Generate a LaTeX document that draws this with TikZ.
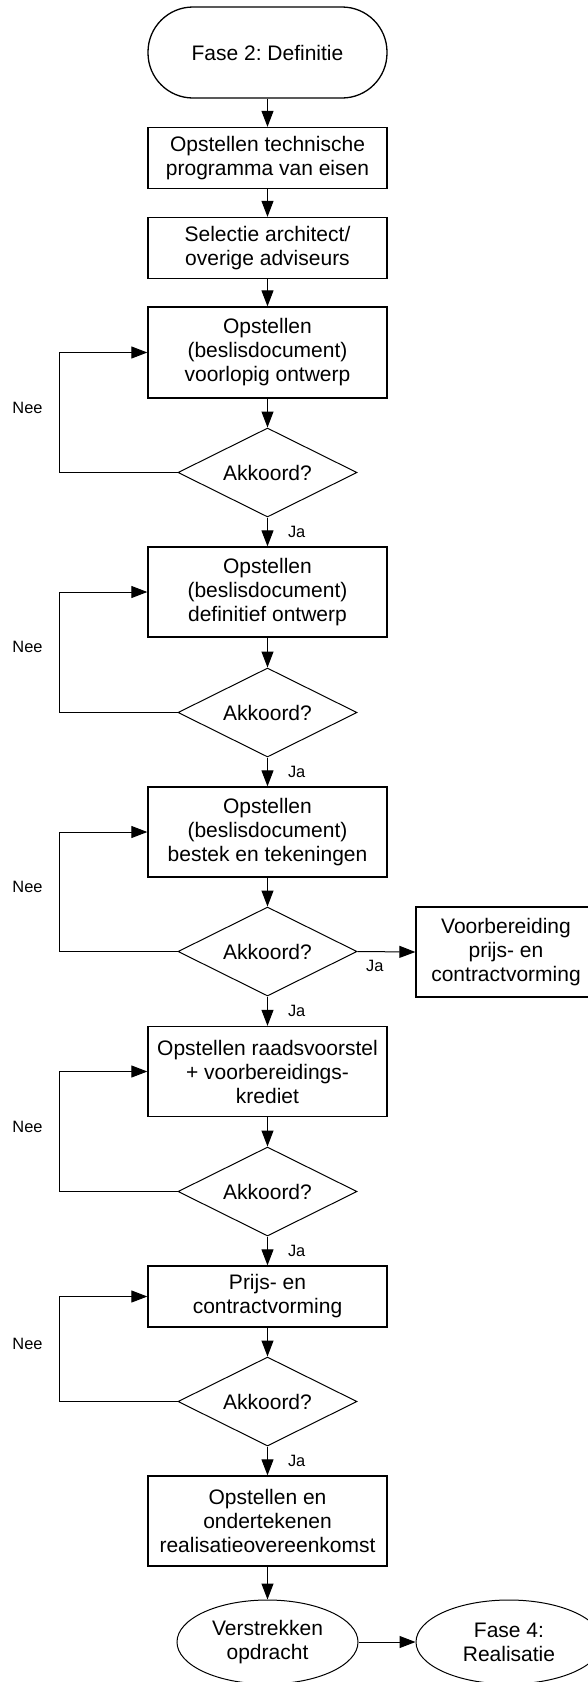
\documentclass[tikz,border=0pt]{standalone}
\usepackage{fontspec}
\setmainfont{Liberation Sans}
\usetikzlibrary{shapes.geometric, arrows.meta, calc}
\frenchspacing

\begin{document}
\begin{tikzpicture}[x=1pt, y=-1pt,
  base/.style={draw=black, align=center, font=\fontsize{21}{24}\selectfont, inner sep=0pt},
  stepbox/.style={base, rectangle, line width=1.3pt, minimum width=239pt, minimum height=#1},
  stepbox/.default=61pt,
  terminal/.style={base, rectangle, line width=1.3pt, rounded corners=45pt, minimum width=239pt, minimum height=91pt},
  decision/.style={base, diamond, line width=1pt, aspect=2, minimum width=179pt, minimum height=89pt},
  endpoint/.style={base, ellipse, line width=1pt, minimum height=84pt},
  conn/.style={draw=black, line width=1pt, -{Triangle[length=16pt, width=12pt]}},
  lbl/.style={font=\fontsize{16.4}{19}\selectfont, inner sep=0pt}
]
\useasboundingbox (0,0) rectangle (587,1682);

% main column
\node[terminal] (t0) at (267.5,52.5) {Fase 2: Definitie};
\node[stepbox] (b1) at (267.5,158) {Opstellen technische\\programma van eisen};
\node[stepbox] (b2) at (267.5,248) {Selectie architect/\\overige adviseurs};
\node[stepbox=91pt] (b3) at (267.5,352.5) {Opstellen\\(beslisdocument)\\voorlopig ontwerp};
\node[decision] (d1) at (267.5,472.5) {Akkoord?};
\node[stepbox=90pt] (b4) at (267.5,592) {Opstellen\\(beslisdocument)\\definitief ontwerp};
\node[decision] (d2) at (267.5,712.5) {Akkoord?};
\node[stepbox=90pt] (b5) at (267.5,832) {Opstellen\\(beslisdocument)\\bestek en tekeningen};
\node[decision] (d3) at (267.5,951.5) {Akkoord?};
\node[stepbox=90pt, minimum width=180pt] (vb) at (506,952) {Voorbereiding\\prijs- en\\contractvorming};
\node[stepbox=90pt] (b6) at (267.5,1071.5) {Opstellen raadsvoorstel\\+ voorbereidings-\\krediet};
\node[decision] (d4) at (267.5,1191.5) {Akkoord?};
\node[stepbox] (b7) at (267.5,1296.5) {Prijs- en\\contractvorming};
\node[decision] (d5) at (267.5,1401.5) {Akkoord?};
\node[stepbox=90pt] (b8) at (267.5,1521) {Opstellen en\\ondertekenen\\realisatieovereenkomst};
\node[endpoint, minimum width=181pt] (e1) at (267.5,1642) {Verstrekken\\opdracht};
\node[endpoint, minimum width=186pt] (e2) at (509,1642) {Fase 4:\\Realisatie};

% x position of the return lines
\coordinate (lx) at (59,0);

% forward flow
\draw[conn] (t0) -- (b1);
\draw[conn] (b1) -- (b2);
\draw[conn] (b2) -- (b3);
\draw[conn] (b3) -- (d1);
\draw[conn] (d1) -- node[lbl, midway, right=20pt] {Ja} (b4);
\draw[conn] (b4) -- (d2);
\draw[conn] (d2) -- node[lbl, midway, right=20pt] {Ja} (b5);
\draw[conn] (b5) -- (d3);
\draw[conn] (d3) -- node[lbl, midway, right=20pt] {Ja} (b6);
\draw[conn] (d3.east) -- node[lbl, pos=0.3, below=8pt] {Ja} (vb.west);
\draw[conn] (b6) -- (d4);
\draw[conn] (d4) -- node[lbl, midway, right=20pt] {Ja} (b7);
\draw[conn] (b7) -- (d5);
\draw[conn] (d5) -- node[lbl, midway, right=20pt] {Ja} (b8);
\draw[conn] (b8) -- (e1);
\draw[conn] (e1) -- (e2);

% return loops
\draw[conn] (d1.west) -- (d1.west -| lx) |- node[lbl, pos=0.25, left=16pt, yshift=5pt] {Nee} (b3.west);
\draw[conn] (d2.west) -- (d2.west -| lx) |- node[lbl, pos=0.25, left=16pt, yshift=5pt] {Nee} (b4.west);
\draw[conn] (d3.west) -- (d3.west -| lx) |- node[lbl, pos=0.25, left=16pt, yshift=5pt] {Nee} (b5.west);
\draw[conn] (d4.west) -- (d4.west -| lx) |- node[lbl, pos=0.25, left=16pt, yshift=5pt] {Nee} (b6.west);
\draw[conn] (d5.west) -- (d5.west -| lx) |- node[lbl, pos=0.25, left=16pt, yshift=5pt] {Nee} (b7.west);
\end{tikzpicture}
\end{document}
